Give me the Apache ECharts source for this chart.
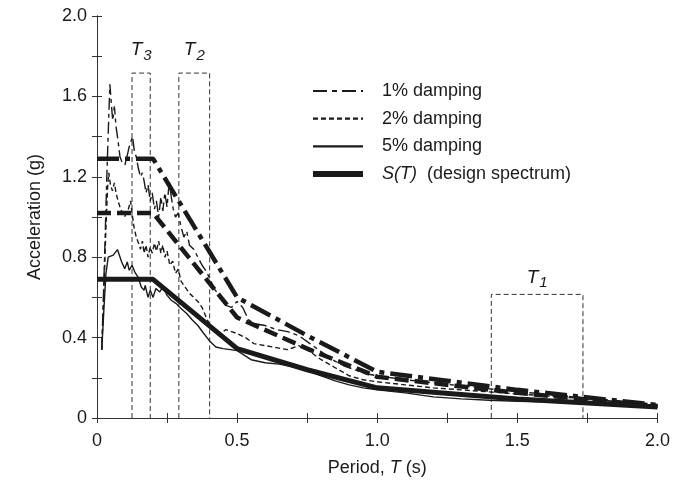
<!DOCTYPE html>
<html><head><meta charset="utf-8">
<script src="https://cdn.jsdelivr.net/npm/echarts@6/dist/echarts.min.js"></script>
<style>html,body{margin:0;padding:0;background:#fff}#c{width:673px;height:487px}</style>
</head><body><div id="c"></div>
<script>
// ---- tick labels ----
const xTickLabels = ['0', '0.5', '1.0', '1.5', '2.0'];
const yTickLabels = ['0', '0.4', '0.8', '1.2', '1.6', '2.0'];

// ---- measured spectra (period T in s, acceleration in g) ----
const damp1T = [0.017,0.025,0.035,0.042,0.046,0.052,0.056,0.062,0.068,0.075,0.082,0.09,0.1,0.107,0.115,0.122,0.127,0.133,0.14,0.148,0.155,0.162,0.168,0.175,0.182,0.19,0.197,0.205,0.212,0.22,0.228,0.235,0.242,0.25,0.258,0.265,0.272,0.28,0.29,0.3,0.31,0.32,0.33,0.345,0.36,0.375,0.39,0.4,0.42,0.44,0.46,0.48,0.5,0.52,0.54,0.56,0.6,0.64,0.68,0.72,0.76,0.8,0.84,0.88,0.92,0.96,1.0,1.1,1.2,1.3,1.4,1.5,1.6,1.7,1.8,1.9,2.0];
const damp1A = [0.34,0.7,1.2,1.5,1.66,1.55,1.48,1.55,1.45,1.38,1.3,1.27,1.26,1.3,1.35,1.38,1.4,1.33,1.3,1.24,1.2,1.22,1.18,1.12,1.16,1.08,1.12,1.04,1.08,1.0,1.1,1.03,1.12,1.05,1.18,1.1,1.04,1.0,1.02,0.95,0.9,0.93,0.86,0.84,0.8,0.76,0.73,0.7,0.64,0.6,0.56,0.55,0.58,0.55,0.49,0.47,0.46,0.44,0.43,0.41,0.37,0.33,0.29,0.26,0.24,0.22,0.21,0.19,0.175,0.16,0.145,0.13,0.12,0.105,0.09,0.075,0.06];

const damp2T = [0.017,0.025,0.032,0.038,0.042,0.048,0.055,0.062,0.068,0.075,0.082,0.09,0.098,0.105,0.112,0.12,0.125,0.132,0.14,0.148,0.155,0.162,0.168,0.175,0.182,0.19,0.197,0.205,0.212,0.22,0.228,0.235,0.242,0.25,0.26,0.27,0.28,0.29,0.3,0.315,0.33,0.345,0.36,0.375,0.39,0.4,0.42,0.44,0.46,0.48,0.5,0.53,0.56,0.6,0.64,0.68,0.72,0.76,0.8,0.85,0.9,0.95,1.0,1.1,1.2,1.3,1.4,1.5,1.6,1.7,1.8,1.9,2.0];
const damp2A = [0.34,0.65,0.95,1.15,1.22,1.16,1.13,1.17,1.12,1.08,1.05,1.02,1.0,1.02,1.04,1.08,1.02,0.95,0.9,0.87,0.84,0.88,0.82,0.86,0.8,0.85,0.82,0.87,0.83,0.88,0.82,0.86,0.8,0.83,0.76,0.78,0.72,0.74,0.68,0.65,0.62,0.6,0.58,0.55,0.5,0.47,0.43,0.42,0.44,0.43,0.42,0.4,0.37,0.36,0.35,0.34,0.36,0.33,0.29,0.25,0.21,0.19,0.18,0.165,0.15,0.14,0.13,0.12,0.11,0.1,0.085,0.072,0.06];

const damp5T = [0.017,0.025,0.032,0.04,0.058,0.073,0.088,0.099,0.108,0.115,0.125,0.135,0.147,0.158,0.168,0.172,0.182,0.19,0.2,0.21,0.224,0.235,0.25,0.265,0.283,0.294,0.32,0.341,0.36,0.377,0.4,0.424,0.45,0.5,0.55,0.6,0.65,0.7,0.75,0.8,0.85,0.9,0.95,1.0,1.1,1.2,1.3,1.4,1.5,1.6,1.7,1.8,1.9,2.0];
const damp5A = [0.34,0.55,0.72,0.8,0.81,0.838,0.776,0.743,0.776,0.735,0.76,0.726,0.7,0.652,0.635,0.66,0.6,0.635,0.6,0.644,0.627,0.652,0.61,0.586,0.569,0.552,0.52,0.486,0.46,0.428,0.386,0.353,0.345,0.335,0.29,0.275,0.268,0.255,0.235,0.21,0.185,0.165,0.15,0.14,0.125,0.105,0.095,0.088,0.083,0.08,0.075,0.07,0.063,0.055];

// ---- design spectra ----
const designT = [0, 0.2, 0.5, 0.75, 1.0, 1.5, 2.0];
const design5A = [0.69, 0.69, 0.345, 0.24, 0.15, 0.095, 0.055];
const design2A = [1.02, 1.02, 0.5, 0.345, 0.205, 0.125, 0.06];
const design1A = [1.29, 1.29, 0.6, 0.41, 0.23, 0.14, 0.065];

// ---- period bands T1, T2, T3 ----
const bandNames = ['3', '2', '1'];
const bandLo = [0.125, 0.292, 1.407];
const bandHi = [0.19, 0.402, 1.734];
const bandTop = [1.716, 1.716, 0.615];
const bandLabelY = [1.83, 1.83, 0.70];

const FONT = '"Liberation Sans", Arial, sans-serif';
const INK = '#1a1a1a';
const FS = 18;
const zip = (t, a) => t.map((v, i) => [v, a[i]]);

const series = [];
// bands
bandLo.forEach((lo, i) => {
  series.push({
    type: 'line', name: 'band' + i, silent: true, symbol: 'none', z: 1,
    data: [[lo, 0], [lo, bandTop[i]], [bandHi[i], bandTop[i]], [bandHi[i], 0]],
    lineStyle: { color: '#333', width: 1, type: [5, 3] }
  });
});
series.push({
  type: 'scatter', name: 'bandLabels', silent: true, symbolSize: 1, itemStyle: { opacity: 0 },
  data: bandLo.map((lo, i) => [(lo + bandHi[i]) / 2, bandLabelY[i], bandNames[i]]),
  label: {
    show: true, position: 'inside', opacity: 1,
    formatter: p => '{t|T}{s|' + p.data[2] + '}',
    rich: {
      t: { fontFamily: FONT, fontSize: 19, fontStyle: 'italic', color: INK },
      s: { fontFamily: FONT, fontSize: 15, fontStyle: 'italic', color: INK, padding: [12, 0, 0, 1] }
    }
  }
});
const mk = (name, data, z, ls) => ({ type: 'line', name, symbol: 'none', showSymbol: false, z, data,
  itemStyle: { color: INK }, lineStyle: Object.assign({ color: INK }, ls) });
// design spectra for 1% and 2%
series.push(mk('S1', zip(designT, design1A), 3, { width: 4.5, type: [22, 6, 5, 6] }));
series.push(mk('S2', zip(designT, design2A), 3, { width: 4.5, type: [14, 6] }));
// measured
series.push(mk('1% damping', zip(damp1T, damp1A), 4, { width: 1.4, type: [12, 4, 4, 4] }));
series.push(mk('2% damping', zip(damp2T, damp2A), 4, { width: 1.4, type: [5, 3] }));
series.push(mk('5% damping', zip(damp5T, damp5A), 4, { width: 1.4, type: 'solid' }));
series.push(mk('S(T)', zip(designT, design5A), 3, { width: 5, type: 'solid' }));

const near = (v, step) => Math.abs(v / step - Math.round(v / step)) < 1e-6;
const axisLineStyle = { lineStyle: { color: '#333', width: 1 } };
const tick = { inside: true, length: 5, lineStyle: { color: '#333' } };

const option = {
  animation: false,
  backgroundColor: '#fff',
  grid: { left: 97, right: 13, top: 16, bottom: 69 },
  xAxis: [{
    type: 'value', min: 0, max: 2, interval: 0.25,
    axisLine: axisLineStyle, splitLine: { show: false }, axisTick: tick,
    axisLabel: { fontFamily: FONT, fontSize: FS, color: INK, margin: 14,
      formatter: v => near(v, 0.5) ? xTickLabels[Math.round(v / 0.5)] : '' },
    name: 'Period, {i|T} (s)', nameLocation: 'middle', nameGap: 41,
    nameTextStyle: { fontFamily: FONT, fontSize: FS, color: INK,
      rich: { i: { fontFamily: FONT, fontSize: FS, color: INK, fontStyle: 'italic' } } }
  }, {
    type: 'value', min: 0, max: 2, interval: 0.25, position: 'top',
    axisLine: axisLineStyle, splitLine: { show: false }, axisTick: tick,
    axisLabel: { show: false }
  }],
  yAxis: [{
    type: 'value', min: 0, max: 2, interval: 0.2,
    axisLine: axisLineStyle, splitLine: { show: false }, axisTick: tick,
    axisLabel: { fontFamily: FONT, fontSize: FS, color: INK, margin: 10,
      formatter: v => near(v, 0.4) ? yTickLabels[Math.round(v / 0.4)] : '' },
    name: 'Acceleration (g)', nameLocation: 'middle', nameGap: 53,
    nameTextStyle: { fontFamily: FONT, fontSize: FS, color: INK }
  }, {
    type: 'value', min: 0, max: 2, interval: 0.2, position: 'right',
    axisLine: axisLineStyle, splitLine: { show: false }, axisTick: tick,
    axisLabel: { show: false }
  }],
  legend: {
    orient: 'vertical', left: 305, top: 77, itemWidth: 50, itemHeight: 18, itemGap: 9.7,
    itemStyle: { opacity: 0 },
    data: [
      { name: '1% damping', lineStyle: { width: 2.2, type: [14, 5, 5, 5] } },
      { name: '2% damping', lineStyle: { width: 2.2 } },
      { name: '5% damping', lineStyle: { width: 2.2 } },
      { name: 'S(T)', lineStyle: { width: 6 } }
    ],
    formatter: n => n === 'S(T)' ? '{i|S(T)}  (design spectrum)' : n,
    textStyle: { fontFamily: FONT, fontSize: FS, color: INK, padding: [0, 0, 0, 14],
      rich: { i: { fontFamily: FONT, fontSize: FS, color: INK, fontStyle: 'italic' } } }
  },
  series: series
};

const chart = echarts.init(document.getElementById('c'), null, { renderer: 'canvas' });
chart.setOption(option);
</script>
</body></html>
